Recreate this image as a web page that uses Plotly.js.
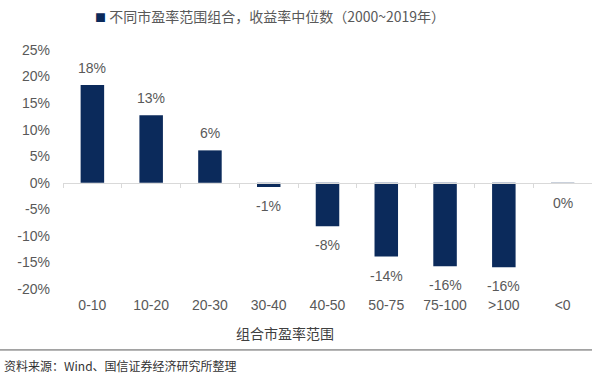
<!DOCTYPE html>
<html>
<head>
<meta charset="utf-8">
<script src="https://cdn.plot.ly/plotly-3.0.1.min.js"></script>
<style>html,body{margin:0;padding:0;background:#fff;}#chart{width:592px;height:384px;}</style>
</head>
<body>
<div id="chart"></div>
<script>
var categories = ["0-10", "10-20", "20-30", "30-40", "40-50", "50-75", "75-100", ">100", "<0"];
var medianReturn = [18.4, 12.7, 6.1, -0.8, -8.2, -13.9, -15.7, -15.9, -0.2];
var yTickVals = [-20, -15, -10, -5, 0, 5, 10, 15, 20, 25];
var yTickText = ["-20%", "-15%", "-10%", "-5%", "0%", "5%", "10%", "15%", "20%", "25%"];
var seriesName = "不同市盈率范围组合，收益率中位数（2000~2019年）";
var xTitle = "组合市盈率范围";
var sourceNote = "资料来源：Wind、国信证券经济研究所整理";

var barColor = "#0b2a5b";
var labelColor = "#595959";
var fontFam = "Liberation Sans, Arial, Noto Sans CJK SC, sans-serif";
var cjkFam = "Noto Sans CJK SC, Liberation Sans, sans-serif";

var yMin = -20, yMax = 25;
function pctLabel(v) {
  var r = Math.round(v);
  if (r === 0) r = 0;
  return String(r) + "%";
}

var traces = [
  {
    type: "bar",
    x: categories,
    y: medianReturn,
    name: seriesName,
    marker: {color: barColor},
    hoverinfo: "skip",
    showlegend: false
  },
  {
    type: "scatter",
    mode: "none",
    x: categories,
    y: medianReturn,
    xaxis: "x2",
    hoverinfo: "skip",
    showlegend: false
  }
];

var valueLabels = categories.map(function(c, i) {
  var v = medianReturn[i];
  var pos = v >= 0;
  return {
    xref: "x", yref: "y",
    x: c, y: v,
    text: pctLabel(v),
    showarrow: false,
    xanchor: "center",
    yanchor: pos ? "bottom" : "top",
    yshift: pos ? 7 : -9,
    font: {family: fontFam, size: 14, color: labelColor}
  };
});

var layout = {
  width: 592,
  height: 384,
  margin: {l: 63, r: 0, t: 50, b: 95},
  paper_bgcolor: "#ffffff",
  plot_bgcolor: "#ffffff",
  font: {family: fontFam, size: 14, color: labelColor},
  bargap: 0.6,
  showlegend: false,
  xaxis: {
    type: "category",
    categoryorder: "array",
    categoryarray: categories,
    showline: false,
    showgrid: false,
    zeroline: false,
    ticks: "",
    ticklabelstandoff: 6,
    tickfont: {family: fontFam, size: 14, color: labelColor},
    fixedrange: true
  },
  xaxis2: {
    type: "category",
    categoryorder: "array",
    categoryarray: categories,
    overlaying: "x",
    matches: "x",
    anchor: "free",
    position: (0 - yMin) / (yMax - yMin),
    side: "bottom",
    showline: true,
    linecolor: "#d9d9d9",
    linewidth: 1,
    ticks: "outside",
    tickson: "boundaries",
    ticklen: 4,
    tickcolor: "#d9d9d9",
    showticklabels: false,
    showgrid: false,
    zeroline: false
  },
  yaxis: {
    range: [yMin, yMax],
    tickvals: yTickVals,
    ticktext: yTickText,
    showgrid: false,
    zeroline: false,
    showline: false,
    ticks: "",
    ticklabelstandoff: 12,
    tickfont: {family: fontFam, size: 14, color: labelColor},
    fixedrange: true
  },
  annotations: valueLabels.concat([
    {
      xref: "paper", yref: "paper",
      x: 0.391, y: 1.142,
      xanchor: "center", yanchor: "middle",
      showarrow: false,
      text: '<span style="color:' + barColor + ';font-size:11px">■</span> ' + seriesName,
      font: {family: cjkFam, size: 14, color: labelColor}
    },
    {
      xref: "paper", yref: "paper",
      x: 0.42, y: -0.184,
      xanchor: "center", yanchor: "middle",
      showarrow: false,
      text: xTitle,
      font: {family: cjkFam, size: 14, color: "#404040"}
    },
    {
      xref: "paper", yref: "paper",
      x: -0.115, y: -0.322,
      xanchor: "left", yanchor: "middle",
      showarrow: false,
      text: sourceNote,
      font: {family: cjkFam, size: 12, color: "#333333"}
    }
  ]),
  shapes: [
    {
      type: "line",
      xref: "paper", yref: "paper",
      x0: -0.12, x1: 1, y0: -0.255, y1: -0.255,
      line: {color: "#595959", width: 1}
    }
  ]
};

Plotly.newPlot("chart", traces, layout, {displayModeBar: false, staticPlot: true});
</script>
</body>
</html>
